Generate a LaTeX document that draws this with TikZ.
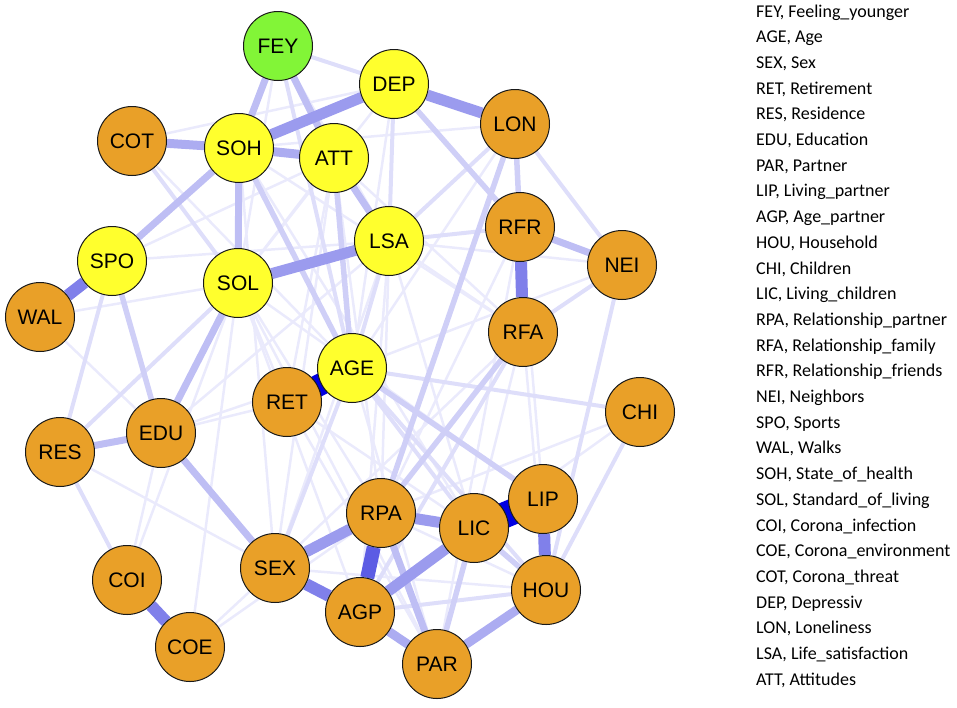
\documentclass[tikz,border=0pt]{standalone}
\usepackage{fontspec}
\setmainfont{Liberation Sans}
\newfontfamily\legendfont{Carlito}
\usetikzlibrary{backgrounds}

\definecolor{nodeorange}{RGB}{233,160,40}
\definecolor{nodeyellow}{RGB}{255,255,45}
\definecolor{nodegreen}{RGB}{130,245,55}
\definecolor{edgedeep}{RGB}{0,0,225}
\definecolor{edgestrong}{RGB}{92,92,228}
\definecolor{edgebold}{RGB}{128,128,234}
\definecolor{edgemid}{RGB}{155,155,238}
\definecolor{edgesoft}{RGB}{172,172,241}
\definecolor{edgelight}{RGB}{190,190,244}
\definecolor{edgethin}{RGB}{207,207,247}
\definecolor{edgefaint}{RGB}{222,222,250}
\definecolor{edgehair}{RGB}{234,234,252}

\begin{document}
\begin{tikzpicture}[x=1pt, y=-1pt,
basenode/.style={circle, draw=black!90, line width=1pt, minimum size=69pt, inner sep=0pt, font=\fontsize{21}{21}\selectfont},
orangenode/.style={basenode, fill=nodeorange},
yellownode/.style={basenode, fill=nodeyellow},
greennode/.style={basenode, fill=nodegreen},
deepedge/.style={draw=edgedeep, line width=22pt},
strongedge/.style={draw=edgestrong, line width=14pt},
boldedge/.style={draw=edgebold, line width=12pt},
midedge/.style={draw=edgemid, line width=11pt},
softedge/.style={draw=edgesoft, line width=9pt},
lightedge/.style={draw=edgelight, line width=7pt},
thinedge/.style={draw=edgethin, line width=5.5pt},
faintedge/.style={draw=edgefaint, line width=4pt},
hairedge/.style={draw=edgehair, line width=2.5pt},
legendtext/.style={anchor=base west, inner sep=0pt, font=\legendfont\fontsize{18}{18}\selectfont},
]
\useasboundingbox (0,0) rectangle (957,707);

%Nodes
\node[greennode]  (fey) at (278,46)  {FEY};
\node[yellownode] (dep) at (394,84)  {DEP};
\node[orangenode] (lon) at (515,124) {LON};
\node[orangenode] (cot) at (132,141) {COT};
\node[yellownode] (soh) at (239,148) {SOH};
\node[yellownode] (att) at (334,158) {ATT};
\node[orangenode] (rfr) at (520,227) {RFR};
\node[orangenode] (nei) at (622,265) {NEI};
\node[yellownode] (lsa) at (389,241) {LSA};
\node[yellownode] (spo) at (112,261) {SPO};
\node[yellownode] (sol) at (238,283) {SOL};
\node[orangenode] (wal) at (40,317)  {WAL};
\node[orangenode] (rfa) at (523,332) {RFA};
\node[orangenode] (ret) at (287,402) {RET};
\node[yellownode] (age) at (352,368) {AGE};
\node[orangenode] (chi) at (640,412) {CHI};
\node[orangenode] (res) at (60,452)  {RES};
\node[orangenode] (edu) at (161,433) {EDU};
\node[orangenode] (rpa) at (381,513) {RPA};
\node[orangenode] (lic) at (474,528) {LIC};
\node[orangenode] (lip) at (543,499) {LIP};
\node[orangenode] (sex) at (275,568) {SEX};
\node[orangenode] (hou) at (546,590) {HOU};
\node[orangenode] (coi) at (127,580) {COI};
\node[orangenode] (agp) at (360,612) {AGP};
\node[orangenode] (coe) at (190,647) {COE};
\node[orangenode] (par) at (437,664) {PAR};

%Lines
\begin{scope}[on background layer]
\foreach \a/\b in {cot/dep, cot/age, cot/att, spo/lsa, spo/att, wal/sol, wal/edu, res/sex, edu/ret,
  edu/lsa, edu/age, coe/sol, coe/rpa, coe/sex, coi/sol, coi/edu, sex/lsa, sex/soh, sex/rfa, rpa/sol,
  rpa/att, rpa/dep, rpa/rfr, lic/rfa, lic/lsa, lic/soh, lip/sol, lip/rfr, hou/rfa, hou/rpa, hou/sex,
  par/sol, par/age, par/rfr, chi/rpa, chi/agp, nei/lsa, nei/age, rfa/soh, rfa/att, rfa/lsa, ret/sol,
  ret/att, ret/lic, ret/par, dep/age, dep/sol, fey/sol, fey/lsa, lon/soh, lon/age, lon/rfa, att/sol,
  att/sex, agp/sol, agp/lsa}
  \draw[hairedge] (\a) -- (\b);
\foreach \a/\b in {fey/dep, lon/nei, nei/rfa, chi/hou, nei/hou, lsa/rfr, res/coi, age/lic, age/chi,
  res/spo, res/sol, fey/age, dep/lsa, lon/lsa, agp/hou, rfa/agp, lsa/age, age/hou, sex/age, cot/sol}
  \draw[faintedge] (\a) -- (\b);
\foreach \a/\b in {lon/rfr, lic/hou, att/age, spo/edu, soh/age, lon/rpa, dep/rfr, age/lip, rfa/rpa, lic/par}
  \draw[thinedge] (\a) -- (\b);
\draw[lightedge] (sol) -- (edu);
\draw[lightedge] (edu) -- (sex);
\draw[lightedge] (soh) -- (spo);
\draw[lightedge] (soh) -- (sol);
\draw[lightedge] (fey) -- (soh);
\draw[lightedge] (fey) -- (att);
\draw[lightedge] (att) -- (lsa);
\draw[lightedge] (rfr) -- (nei);
\draw[lightedge] (res) -- (edu);
\draw[lightedge] (rpa) -- (par);
\draw[softedge] (agp) -- (par);
\draw[softedge] (par) -- (hou);
\draw[softedge] (cot) -- (soh);
\draw[softedge] (soh) -- (att);
\draw[midedge] (soh) -- (dep);
\draw[midedge] (dep) -- (lon);
\draw[midedge] (sol) -- (lsa);
\draw[midedge] (sex) -- (rpa);
\draw[midedge] (rpa) -- (lic);
\draw[midedge] (agp) -- (lic);
\draw[boldedge] (coi) -- (coe);
\draw[boldedge] (rfr) -- (rfa);
\draw[boldedge] (spo) -- (wal);
\draw[boldedge] (lip) -- (hou);
\draw[boldedge] (sex) -- (agp);
\draw[strongedge] (rpa) -- (agp);
\draw[deepedge] (age.center) -- (ret.center);
\draw[deepedge, line width=26pt] (lic.center) -- (lip.center);
\end{scope}

%Legend
\foreach \t [count=\i from 0] in {{FEY, Feeling\_younger}, {AGE, Age}, {SEX, Sex}, {RET, Retirement},
  {RES, Residence}, {EDU, Education}, {PAR, Partner}, {LIP, Living\_partner}, {AGP, Age\_partner},
  {HOU, Household}, {CHI, Children}, {LIC, Living\_children}, {RPA, Relationship\_partner},
  {RFA, Relationship\_family}, {RFR, Relationship\_friends}, {NEI, Neighbors}, {SPO, Sports},
  {WAL, Walks}, {SOH, State\_of\_health}, {SOL, Standard\_of\_living}, {COI, Corona\_infection},
  {COE, Corona\_environment}, {COT, Corona\_threat}, {DEP, Depressiv}, {LON, Loneliness},
  {LSA, Life\_satisfaction}, {ATT, Attitudes}}
  \node[legendtext] (leg\i) at (756,{17+25.7*\i}) {\t};
\end{tikzpicture}
\end{document}
